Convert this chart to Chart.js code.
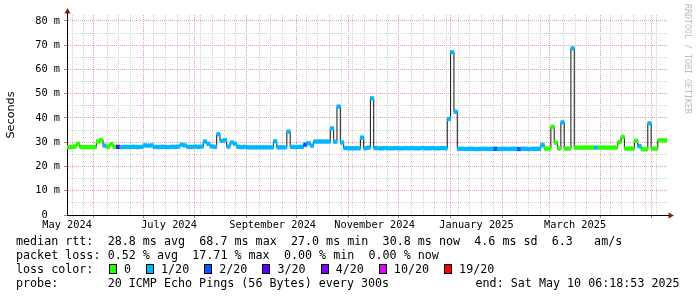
<!DOCTYPE html>
<html>
<head>
<meta charset="utf-8">
<script src="https://cdn.jsdelivr.net/npm/chart.js@4.4.1/dist/chart.umd.min.js"></script>
<style>
  html, body { margin: 0; padding: 0; background: #fff; }
  #wrap { position: relative; width: 697px; height: 297px; overflow: hidden; }
  #chart { position: absolute; left: 0; top: 0; }
  .lg { position: absolute; font-family: 'DejaVu Sans Mono', monospace; font-size: 11.7px; line-height: 14px; color: #000; white-space: pre; }
  .box { position: absolute; width: 6px; height: 8px; border: 1px solid #000; }
  #mark { position: absolute; left: 684px; top: 4px; writing-mode: vertical-rl; font-family: 'DejaVu Sans Mono', monospace; font-size: 8.3px; line-height: 8px; color: #bdbdbd; white-space: pre; }
</style>
</head>
<body>
<div id="wrap">
  <canvas id="chart" width="697" height="297"></canvas>
  <div id="mark">RRDTOOL / TOBI OETIKER</div>
  <div id="legend"></div>
</div>
<script>
// time axis is in days counted from 1 May 2024; one sample every 2 days
const startDay = 16
const stepDays = 2

// median rtt in ms, one per sample
const medianMs = [
  28.0, 28.0, 28.2, 29.3, 28.0, 28.0, 28.0, 28.0, 28.0, 30.3,
  30.9, 28.6, 28.1, 29.2, 28.1, 28.1, 28.0, 28.1, 28.0, 28.1,
  28.1, 28.0, 28.1, 28.7, 28.6, 28.7, 28.1, 28.0, 28.1, 28.1,
  28.0, 28.1, 28.1, 28.2, 29.0, 28.7, 28.1, 28.0, 28.2, 28.1,
  28.2, 30.3, 29.4, 28.3, 28.1, 33.3, 30.6, 30.8, 28.2, 29.9,
  29.4, 28.1, 28.0, 28.1, 27.9, 27.9, 27.9, 27.9, 27.9, 27.9,
  27.9, 27.9, 30.4, 27.9, 27.9, 27.9, 34.4, 28.1, 28.0, 28.1,
  28.1, 29.0, 29.6, 28.6, 30.3, 30.3, 30.3, 30.3, 30.3, 35.7,
  30.2, 44.7, 29.9, 27.6, 27.5, 27.5, 27.5, 27.5, 31.9, 27.5,
  27.8, 48.1, 27.6, 27.5, 27.5, 27.6, 27.5, 27.5, 27.6, 27.5,
  27.5, 27.6, 27.5, 27.6, 27.5, 27.5, 27.6, 27.5, 27.5, 27.6,
  27.5, 27.5, 27.6, 27.5, 39.6, 67.1, 42.6, 27.3, 27.3, 27.2,
  27.3, 27.3, 27.2, 27.2, 27.3, 27.3, 27.2, 27.3, 27.3, 27.2,
  27.3, 27.3, 27.2, 27.3, 27.3, 27.2, 27.3, 27.3, 27.2, 27.3,
  27.3, 27.3, 28.9, 27.4, 27.4, 36.4, 29.8, 27.4, 38.2, 27.4,
  27.4, 68.7, 27.8, 27.8, 27.8, 27.8, 27.8, 27.8, 27.8, 27.8,
  27.8, 27.8, 27.8, 27.8, 27.8, 30.0, 32.2, 27.4, 27.4, 27.4,
  30.6, 28.4, 27.1, 27.1, 37.8, 27.4, 27.4, 30.8, 30.8, 30.8
]

// packet loss bucket per sample (index into lossNames / lossColors)
const lossLevel = [
  0, 0, 0, 0, 0, 0, 0, 0, 0, 0,
  0, 1, 0, 0, 0, 3, 1, 1, 1, 1,
  1, 1, 1, 1, 1, 1, 1, 1, 1, 1,
  1, 1, 1, 1, 1, 1, 1, 1, 1, 1,
  1, 1, 1, 1, 1, 1, 1, 1, 1, 1,
  1, 1, 1, 1, 1, 1, 1, 1, 1, 1,
  1, 1, 1, 1, 1, 1, 1, 1, 1, 1,
  1, 2, 1, 1, 1, 1, 1, 1, 1, 1,
  1, 1, 1, 1, 1, 1, 1, 1, 1, 1,
  1, 1, 1, 1, 1, 1, 1, 1, 1, 1,
  1, 1, 1, 1, 1, 1, 1, 1, 1, 1,
  1, 1, 1, 1, 1, 1, 1, 1, 1, 1,
  1, 1, 1, 1, 1, 1, 1, 1, 2, 1,
  1, 1, 1, 1, 1, 2, 1, 1, 1, 1,
  1, 1, 1, 0, 0, 0, 0, 0, 1, 0,
  0, 1, 0, 0, 0, 0, 0, 0, 1, 0,
  0, 0, 0, 0, 0, 0, 0, 0, 0, 0,
  0, 1, 0, 0, 1, 0, 0, 0, 0, 0
]

const lossNames = ['0', '1/20', '2/20', '3/20', '4/20', '10/20', '19/20']
const lossColors = ['#26ff00', '#00b8ff', '#0059ff', '#5e00ff', '#7e00ff', '#dd00ff', '#ff0000']

const monthStartDays = [31, 61, 92, 123, 153, 184, 214, 245, 276, 304, 335, 365]
const monthLabels = ['May 2024', 'July 2024', 'September 2024', 'November 2024', 'January 2025', 'March 2025']
const monthLabelDays = [15.5, 76.5, 138.5, 199.5, 260.5, 319.5]
const firstWeekDay = 18.5

const yTickValues = [0, 5, 10, 15, 20, 25, 30, 35, 40, 45, 50, 55, 60, 65, 70, 75, 80]

const statsLine1 = ['median rtt:', '28.8 ms avg', '68.7 ms max', '27.0 ms min', '30.8 ms now', '4.6 ms sd', '6.3', 'am/s']
const statsLine2 = ['packet loss:', '0.52 % avg', '17.71 % max', '0.00 % min', '0.00 % now']
const probeText = '20 ICMP Echo Pings (56 Bytes) every 300s'
const endText = 'end: Sat May 10 06:18:53 2025'

const X_MIN = 15.44
const X_MAX = 374.5
const BAND = 0.75
const MAJOR = '#e8a0a0'
const MINOR = '#cfcfcf'
const AXIS_FONT = { family: 'DejaVu Sans Mono', size: 10.3 }


const sampleDay = i => startDay + i * stepDays
const medianPoints = medianMs.map((v, i) => ({ x: sampleDay(i), y: v }))
const bandPoints = medianMs.map((v, i) => ({ x: sampleDay(i), y: [v - BAND, v + BAND] }))
const bandColors = lossLevel.map(l => lossColors[l])

const axisArrows = {
    id: 'axisArrows',
    afterDraw(chart) {
        const { ctx, chartArea: a } = chart
        ctx.save()
        ctx.strokeStyle = '#000'
        ctx.lineWidth = 1
        ctx.beginPath()
        ctx.moveTo(a.left + 0.5, a.top)
        ctx.lineTo(a.left + 0.5, a.top - 3)
        ctx.moveTo(a.right, a.bottom + 0.5)
        ctx.lineTo(a.right + 2, a.bottom + 0.5)
        ctx.stroke()
        ctx.fillStyle = '#8b1a1a'
        ctx.beginPath()
        ctx.moveTo(a.left + 0.5, a.top - 7)
        ctx.lineTo(a.left - 2.5, a.top - 1.5)
        ctx.lineTo(a.left + 3.5, a.top - 1.5)
        ctx.closePath()
        ctx.fill()
        ctx.beginPath()
        ctx.moveTo(a.right + 7, a.bottom + 0.5)
        ctx.lineTo(a.right + 1.5, a.bottom - 2.5)
        ctx.lineTo(a.right + 1.5, a.bottom + 3.5)
        ctx.closePath()
        ctx.fill()
        ctx.restore()
    }
}

new Chart(document.getElementById('chart'), {
    type: 'bar',
    data: {
        datasets: [
            {
                type: 'bar',
                data: bandPoints,
                backgroundColor: bandColors,
                borderWidth: 0,
                barPercentage: 1,
                categoryPercentage: 1,
                order: 1
            },
            {
                type: 'line',
                data: medianPoints,
                stepped: 'middle',
                borderColor: '#151515',
                borderWidth: 1,
                pointRadius: 0,
                fill: false,
                order: 2
            }
        ]
    },
    options: {
        responsive: false,
        animation: false,
        devicePixelRatio: 1,
        layout: { padding: { top: 15, right: 30, left: 0, bottom: 0 } },
        plugins: {
            legend: { display: false },
            tooltip: { enabled: false }
        },
        scales: {
            x: {
                type: 'linear',
                min: X_MIN,
                max: X_MAX,
                offset: false,
                afterBuildTicks: scale => {
                    const ticks = []
                    for (let d = firstWeekDay; d < X_MAX; d += 7) {
                        if (monthStartDays.some(m => Math.abs(m - d) < 1.6)) continue
                        ticks.push({ value: d, kind: 'minor' })
                    }
                    monthStartDays.forEach(d => ticks.push({ value: d, kind: 'major' }))
                    monthLabelDays.forEach((d, i) => ticks.push({ value: d, kind: 'label', text: monthLabels[i] }))
                    scale.ticks = ticks
                },
                afterFit: scale => { scale.height = 82 },
                grid: {
                    offset: false,
                    lineWidth: 1,
                    color: ctx => ctx.tick.kind === 'major' ? MAJOR : ctx.tick.kind === 'minor' ? MINOR : 'rgba(0,0,0,0)',
                    drawTicks: true,
                    tickLength: 3,
                    tickColor: ctx => ctx.tick.kind === 'major' ? '#d07070' : 'rgba(0,0,0,0)'
                },
                border: { display: true, color: '#000', width: 1, dash: [1, 1] },
                ticks: {
                    autoSkip: false,
                    maxRotation: 0,
                    minRotation: 0,
                    padding: 1,
                    color: '#000',
                    font: AXIS_FONT,
                    callback: function (value, index, ticks) {
                        const t = ticks[index]
                        return t.kind === 'label' ? t.text : ''
                    }
                }
            },
            y: {
                type: 'linear',
                min: 0,
                max: 82.47,
                afterBuildTicks: scale => {
                    scale.ticks = yTickValues.map(v => ({ value: v }))
                },
                afterFit: scale => { scale.width = 67 },
                grid: {
                    lineWidth: 1,
                    color: ctx => ctx.tick.value % 10 === 0 ? MAJOR : MINOR,
                    drawTicks: true,
                    tickLength: 3,
                    tickColor: ctx => ctx.tick.value % 10 === 0 ? '#d07070' : 'rgba(0,0,0,0)'
                },
                border: { display: true, color: '#000', width: 1, dash: [1, 1] },
                ticks: {
                    autoSkip: false,
                    padding: 4,
                    color: '#000',
                    font: AXIS_FONT,
                    callback: v => v % 10 !== 0 ? '' : (v === 0 ? '0  ' : v + ' m')
                },
                title: {
                    display: true,
                    text: 'Seconds',
                    color: '#000',
                    font: { family: 'DejaVu Sans', size: 11.2 },
                    padding: { top: 4, bottom: 0 }
                }
            }
        }
    },
    plugins: [axisArrows]
})


// legend block under the graph
const CW = 7.05
const legend = document.getElementById('legend')
const put = (text, x, y) => {
    const el = document.createElement('div')
    el.className = 'lg'
    el.textContent = text
    el.style.left = x + 'px'
    el.style.top = y + 'px'
    legend.appendChild(el)
}
const col = n => 16 + n * CW

const line1Cols = [0, 13, 26, 39, 52, 65, 76, 82]
statsLine1.forEach((t, i) => put(t, col(line1Cols[i]), 234))
const line2Cols = [0, 13, 25, 38, 50]
statsLine2.forEach((t, i) => put(t, col(line2Cols[i]), 248))

put('loss color:', col(0), 262)
let bx = 109
lossNames.forEach((name, i) => {
    const b = document.createElement('div')
    b.className = 'box'
    b.style.left = bx + 'px'
    b.style.top = '264px'
    b.style.background = lossColors[i]
    legend.appendChild(b)
    put(name, bx + 15, 262)
    bx = bx + 15 + name.length * CW + 15
})

put('probe:', col(0), 276)
put(probeText, col(13), 276)
put(endText, 680 - endText.length * CW, 276)
</script>
</body>
</html>
